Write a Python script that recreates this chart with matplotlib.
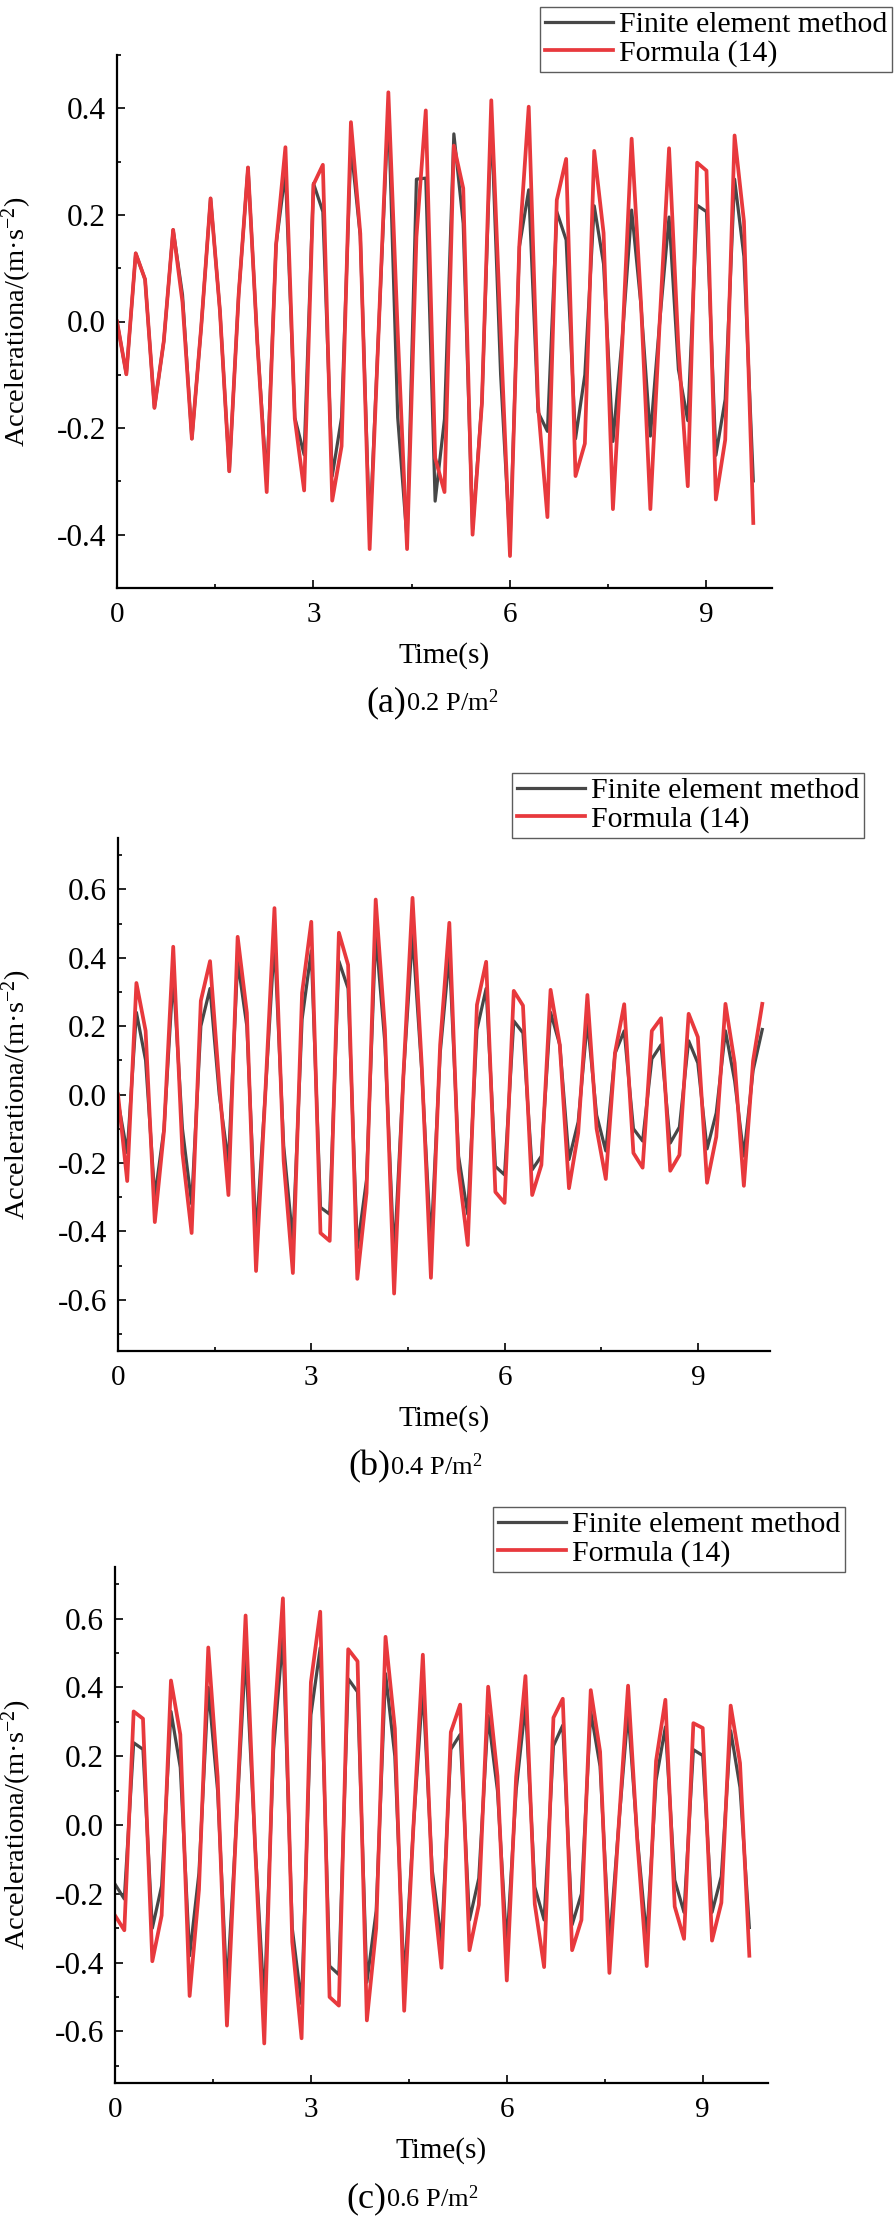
import numpy as np
import matplotlib
matplotlib.use("Agg")
import matplotlib.pyplot as plt
from matplotlib.ticker import MultipleLocator, FormatStrFormatter

plt.rcParams['font.family'] = ['Liberation Serif', 'DejaVu Serif']
plt.rcParams['mathtext.fontset'] = 'custom'
plt.rcParams['mathtext.rm'] = 'Liberation Serif'
plt.rcParams['mathtext.it'] = 'Liberation Serif:italic'

# sampling step of both curves (s)
dt = 1 / 7

# (a) 0.2 P/m2
fem_a = [0.0, -0.099, 0.128, 0.079, -0.162, -0.037, 0.172, 0.05, -0.22, -0.01,
         0.231, 0.02, -0.281, 0.05, 0.289, -0.04, -0.30, 0.144, 0.28, -0.18,
         -0.25, 0.259, 0.206, -0.29, -0.18, 0.33, 0.16, -0.40, 0.0, 0.40,
         -0.18, -0.41, 0.267, 0.269, -0.337, -0.183, 0.352, 0.184, -0.39, -0.15,
         0.38, -0.10, -0.42, 0.14, 0.247, -0.17, -0.206, 0.206, 0.153, -0.22,
         -0.10, 0.217, 0.108, -0.225, -0.03, 0.209, 0.03, -0.215, 0.0, 0.196,
         -0.09, -0.186, 0.218, 0.206, -0.251, -0.146, 0.267, 0.122, -0.299]
formula_a = [0.0, -0.099, 0.128, 0.079, -0.162, -0.037, 0.172, 0.036, -0.22, -0.01,
             0.231, 0.02, -0.281, 0.05, 0.289, -0.04, -0.32, 0.144, 0.327, -0.182,
             -0.317, 0.257, 0.294, -0.336, -0.234, 0.374, 0.165, -0.427, 0.0, 0.430,
             -0.02, -0.427, 0.159, 0.396, -0.256, -0.32, 0.33, 0.25, -0.40, -0.153,
             0.415, -0.02, -0.44, 0.144, 0.403, -0.158, -0.367, 0.228, 0.305, -0.29,
             -0.229, 0.32, 0.166, -0.352, -0.04, 0.343, 0.035, -0.352, 0.0, 0.325,
             -0.05, -0.309, 0.298, 0.283, -0.334, -0.222, 0.349, 0.188, -0.378]

# (b) 0.4 P/m2
fem_b = [-0.02, -0.17, 0.24, 0.10, -0.30, -0.10, 0.35, -0.10, -0.32, 0.20,
         0.31, 0.0, -0.20, 0.39, 0.20, -0.42, 0.0, 0.45, -0.15, -0.43,
         0.22, 0.42, -0.33, -0.35, 0.39, 0.31, -0.45, -0.25, 0.47, 0.15,
         -0.48, 0.05, 0.47, 0.07, -0.44, 0.12, 0.41, -0.18, -0.35, 0.19,
         0.31, -0.21, -0.235, 0.215, 0.18, -0.22, -0.18, 0.24, 0.145, -0.19,
         -0.08, 0.215, -0.06, -0.165, 0.12, 0.186, -0.10, -0.136, 0.104, 0.145,
         -0.142, -0.095, 0.157, 0.092, -0.159, -0.054, 0.186, 0.04, -0.18, 0.07,
         0.19]
formula_b = [0.0, -0.253, 0.326, 0.186, -0.373, -0.106, 0.432, -0.171, -0.405, 0.274,
             0.39, 0.03, -0.294, 0.461, 0.239, -0.516, 0.0, 0.545, -0.194, -0.522,
             0.297, 0.505, -0.405, -0.428, 0.473, 0.379, -0.539, -0.288, 0.57, 0.19,
             -0.582, 0.05, 0.575, 0.086, -0.536, 0.145, 0.502, -0.218, -0.44, 0.262,
             0.388, -0.285, -0.317, 0.303, 0.26, -0.294, -0.206, 0.306, 0.145, -0.274,
             -0.112, 0.291, -0.10, -0.247, 0.122, 0.264, -0.171, -0.214, 0.186, 0.223,
             -0.223, -0.177, 0.236, 0.168, -0.258, -0.124, 0.265, 0.092, -0.267, 0.098,
             0.265]

# (c) 0.6 P/m2
fem_c = [-0.172, -0.215, 0.239, 0.22, -0.30, -0.177, 0.33, 0.167, -0.38, -0.14,
         0.40, 0.10, -0.48, 0.0, 0.50, -0.05, -0.52, 0.22, 0.55, -0.30,
         -0.52, 0.32, 0.515, -0.41, -0.435, 0.425, 0.387, -0.457, -0.25, 0.44,
         0.20, -0.46, 0.0, 0.40, -0.13, -0.34, 0.22, 0.263, -0.276, -0.155,
         0.318, 0.10, -0.353, 0.10, 0.35, -0.18, -0.276, 0.23, 0.29, -0.29,
         -0.20, 0.33, 0.17, -0.35, 0.0, 0.33, -0.04, -0.33, 0.13, 0.285,
         -0.16, -0.254, 0.219, 0.202, -0.254, -0.149, 0.274, 0.109, -0.298]
formula_c = [-0.263, -0.306, 0.33, 0.309, -0.396, -0.263, 0.42, 0.263, -0.497, -0.188,
             0.516, 0.14, -0.583, 0.0, 0.609, -0.05, -0.635, 0.274, 0.659, -0.34,
             -0.62, 0.415, 0.62, -0.50, -0.525, 0.511, 0.476, -0.568, -0.30, 0.547,
             0.28, -0.54, 0.0, 0.495, -0.16, -0.415, 0.27, 0.35, -0.364, -0.232,
             0.402, 0.142, -0.452, 0.14, 0.433, -0.23, -0.413, 0.312, 0.367, -0.364,
             -0.276, 0.392, 0.213, -0.43, 0.0, 0.405, -0.05, -0.41, 0.186, 0.364,
             -0.237, -0.331, 0.296, 0.282, -0.336, -0.226, 0.347, 0.18, -0.38]

captions = [("(a)", "0.2 P/m$^{2}$"), ("(b)", "0.4 P/m$^{2}$"), ("(c)", "0.6 P/m$^{2}$")]
labels = ["Finite element method", "Formula (14)"]

W, H = 895, 2220
fig = plt.figure(figsize=(W / 100, H / 100), dpi=100)

# pixel boxes: left, right, top, bottom
boxes = [(117, 772, 55, 588), (118, 770, 838, 1351), (115, 768, 1567, 2083)]
xmaxs = [10.0, 10.12, 10.0]
ylims = [(-0.5, 0.5), (-0.75, 0.75), (-0.75, 0.75)]
legend_pos = [(892, 7), (864, 773), (845, 1507)]
caption_x = [406, 390, 386]
caption_y = [711, 1475, 2207]
datasets = [(fem_a, formula_a), (fem_b, formula_b), (fem_c, formula_c)]

for i, (fem, form) in enumerate(datasets):
    l, r, t, b = boxes[i]
    ax = fig.add_axes([l / W, 1 - b / H, (r - l) / W, (b - t) / H])
    tf = np.arange(len(fem)) * dt
    tr = np.arange(len(form)) * dt
    ax.plot(tf, fem, color='#474747', lw=2.3, label=labels[0])
    ax.plot(tr, form, color='#e8393d', lw=2.7, label=labels[1])
    ax.set_xlim(0, xmaxs[i])
    ax.set_ylim(*ylims[i])
    ax.xaxis.set_major_locator(MultipleLocator(3))
    ax.xaxis.set_minor_locator(MultipleLocator(1.5))
    ax.yaxis.set_major_locator(MultipleLocator(0.2))
    ax.yaxis.set_minor_locator(MultipleLocator(0.1))
    ax.yaxis.set_major_formatter(FormatStrFormatter('%.1f'))
    for s in ['top', 'right']:
        ax.spines[s].set_visible(False)
    for s in ['left', 'bottom']:
        ax.spines[s].set_linewidth(1.6)
    ax.tick_params(which='both', direction='in', width=1.2)
    ax.tick_params(which='major', length=6)
    ax.tick_params(which='minor', length=3)
    ax.tick_params(axis='x', pad=10, labelsize=21)
    ax.tick_params(axis='y', pad=8, labelsize=22.5)
    ax.set_xlabel("Time(s)", fontsize=21, labelpad=10)
    ax.set_ylabel("Accelerationa/(m·s$^{-2}$)", fontsize=20.5)
    ax.yaxis.set_label_coords(-(l - 34) / (r - l), 0.5)

    lx, ly = legend_pos[i]
    leg = ax.legend(loc='upper right', bbox_to_anchor=(lx / W, 1 - ly / H),
                    bbox_transform=fig.transFigure, fontsize=21.5, frameon=True,
                    fancybox=False, edgecolor='#333333', handlelength=2.3,
                    handletextpad=0.2, borderpad=0.15, labelspacing=0.05,
                    borderaxespad=0)
    leg.get_frame().set_linewidth(1.0)

    cx = caption_x[i]
    fig.text(cx / W, 1 - caption_y[i] / H, captions[i][0], fontsize=26,
             ha='right', va='baseline')
    fig.text(cx / W, 1 - caption_y[i] / H, captions[i][1], fontsize=19,
             ha='left', va='baseline')

fig.savefig("out.png", dpi=100)
